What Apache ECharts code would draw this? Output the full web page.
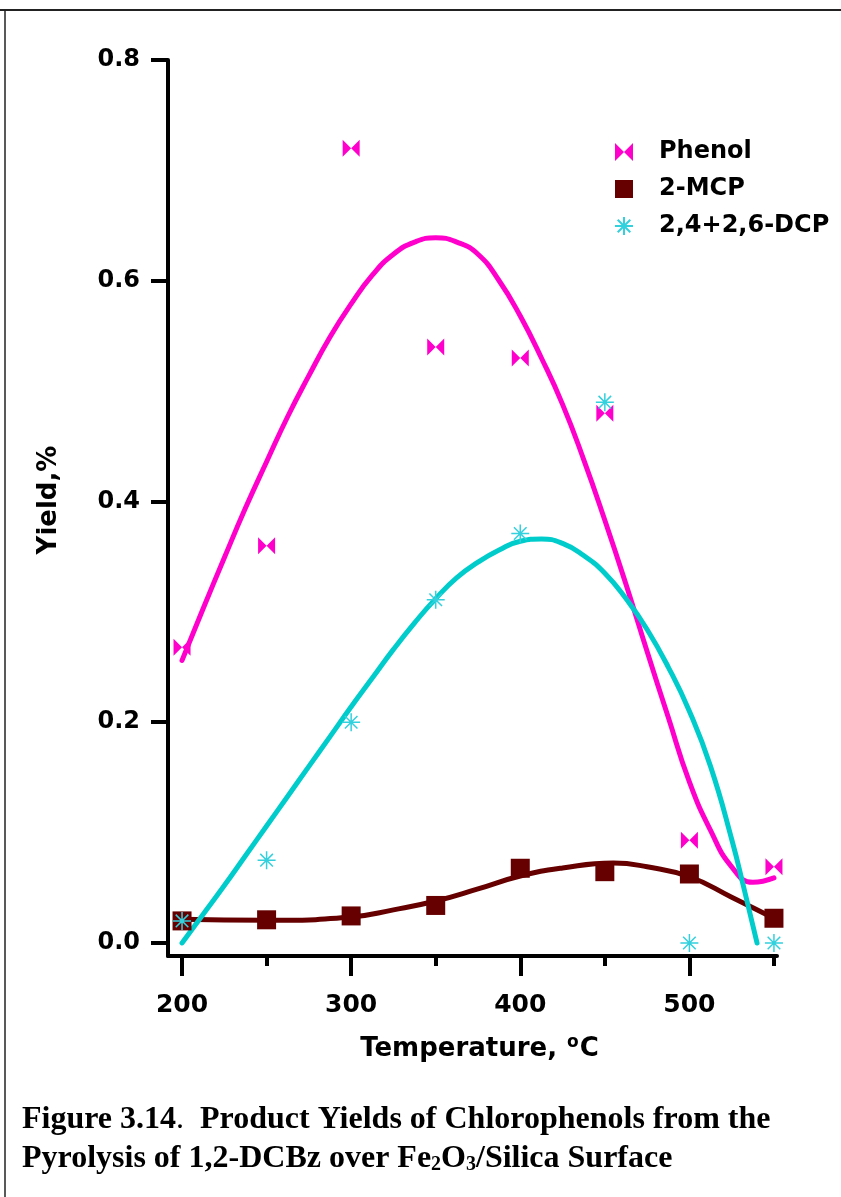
<!DOCTYPE html>
<html>
<head>
<meta charset="utf-8">
<title>Product Yields of Chlorophenols</title>
<script src="https://cdn.jsdelivr.net/npm/echarts@6/dist/echarts.min.js"></script>
<style>
  html, body { margin: 0; padding: 0; background: #fff; }
  #chart { width: 841px; height: 1197px; }
</style>
</head>
<body>
<div id="chart"></div>
<script>
// Measured yields (%) at each pyrolysis temperature
const temps = [200, 250, 300, 350, 400, 450, 500, 550];
const phenol = [0.268, 0.36, 0.72, 0.54, 0.53, 0.48, 0.093, 0.069];
const mcp = [0.020, 0.021, 0.0245, 0.034, 0.0677, 0.0646, 0.0625, 0.0224];
const dcp = [0.02, 0.075, 0.20, 0.311, 0.371, 0.49, 0.0, 0.0];

// Fitted trend curves
const phenolFitT = [200, 212.5, 225, 237.5, 250, 262.5, 275, 287.5, 300, 312.5, 325, 337.5, 350, 362.5, 375,
  387.5, 400, 412.5, 425, 437.5, 450, 462.5, 475, 487.5, 500, 512.5, 525, 537.5, 550];
const phenolFitY = [0.256, 0.303, 0.349, 0.394, 0.436, 0.477, 0.514, 0.549, 0.579, 0.605, 0.624, 0.635, 0.639, 0.635, 0.624,
  0.600, 0.568, 0.530, 0.488, 0.438, 0.383, 0.325, 0.264, 0.2045, 0.146, 0.102, 0.069, 0.055, 0.059];
const mcpFitT = [200, 250, 300, 325, 350, 375, 400, 425, 455, 475, 500, 525, 550];
const mcpFitY = [0.0215, 0.0205, 0.0236, 0.030, 0.038, 0.049, 0.0607, 0.068, 0.0724, 0.069, 0.060, 0.0415, 0.0224];
const dcpFitT = [200, 212.5, 225, 237.5, 250, 262.5, 275, 287.5, 300, 312.5, 325, 337.5, 350, 362.5, 375,
  387.5, 400, 412.5, 425, 437.5, 450, 462.5, 475, 487.5, 500, 512.5, 525, 532.5, 540];
const dcpFitY = [0.0, 0.026, 0.052, 0.079, 0.106, 0.133, 0.160, 0.187, 0.214, 0.240, 0.266, 0.290, 0.312, 0.331, 0.345,
  0.356, 0.364, 0.366, 0.362, 0.351, 0.335, 0.312, 0.284, 0.250, 0.210, 0.160, 0.094, 0.048, 0.0];

// Axis tick positions
const yTicks = [0, 0.2, 0.4, 0.6, 0.8];
const xMajorTicks = [200, 300, 400, 500];
const xMinorTicks = [250, 350, 450, 550];

const seriesNames = ['Phenol', '2-MCP', '2,4+2,6-DCP'];

const MAGENTA = '#FF00CC';
const MAROON = '#660000';
const CYAN = '#00CCCC';
const CYAN_MARK = '#33D0DD';

const bowtie = 'path://M0,0L10,10L0,20ZM20,0L10,10L20,20Z';
const asterisk = 'path://M10,0L10,20M0,10L20,10M3,3L17,17M17,3L3,17';

const pair = (xs, ys) => xs.map((x, i) => [x, ys[i]]);

const SANS = '"DejaVu Sans", sans-serif';
const SERIF = '"Liberation Serif", serif';

const X_MIN = 191.7;
const X_MAX = 551.8;

const chart = echarts.init(document.getElementById('chart'), null, { renderer: 'canvas' });

const axisLineStyle = { color: '#000', width: 4 };

const fitLine = (name, data, color) => ({
  type: 'line', name, data, smooth: 0.5,
  showSymbol: false, lineStyle: { color, width: 5, cap: 'round', join: 'round' }, z: 2, silent: true
});

// bare x axis that only carries a set of tick marks
const tickAxis = (values, length) => ({
  type: 'value', min: X_MIN, max: X_MAX, position: 'bottom', offset: 0,
  splitLine: { show: false },
  axisLine: { show: false, onZero: false },
  axisTick: { show: true, inside: false, length, lineStyle: { color: '#000', width: 4 }, customValues: values },
  axisLabel: { show: false }
});

chart.setOption({
  animation: false,
  backgroundColor: '#fff',
  grid: { left: 168, top: 60, width: 609, height: 896, containLabel: false },
  xAxis: [
    {
      type: 'value', min: X_MIN, max: X_MAX, position: 'bottom',
      splitLine: { show: false },
      axisLine: { show: true, onZero: false, lineStyle: axisLineStyle },
      axisTick: { show: false },
      axisLabel: { customValues: xMajorTicks, margin: 37, color: '#000', fontFamily: SANS, fontWeight: 'bold', fontSize: 25 },
      name: 'Temperature, {sup|o}C',
      nameLocation: 'middle', nameGap: 78,
      nameTextStyle: {
        color: '#000', fontFamily: SANS, fontWeight: 'bold', fontSize: 26, lineHeight: 30, padding: [0, 0, 0, 14],
        rich: { sup: { fontFamily: SANS, fontWeight: 'bold', fontSize: 17, verticalAlign: 'top', lineHeight: 30, padding: [0, 1, 14, 1] } }
      }
    },
    tickAxis(xMajorTicks, 20),
    tickAxis(xMinorTicks, 10)
  ],
  yAxis: {
    type: 'value', min: -0.0118, max: 0.8,
    splitLine: { show: false },
    axisLine: { show: true, onZero: false, lineStyle: axisLineStyle },
    axisTick: { show: true, inside: false, length: 17, lineStyle: { color: '#000', width: 4 }, customValues: yTicks },
    axisLabel: {
      customValues: yTicks, margin: 28, color: '#000', fontFamily: SANS, fontWeight: 'bold', fontSize: 24,
      formatter: v => v.toFixed(1)
    },
    name: 'Yield,%', nameLocation: 'middle', nameRotate: 90, nameGap: 106,
    nameTextStyle: { color: '#000', fontFamily: SANS, fontWeight: 'bold', fontSize: 26, padding: [0, 0, 0, 16] }
  },
  legend: {
    orient: 'vertical', left: 609, top: 134,
    itemWidth: 18, itemHeight: 18, itemGap: 11,
    data: seriesNames,
    textStyle: { color: '#000', fontFamily: SANS, fontWeight: 'bold', fontSize: 24, lineHeight: 26, padding: [0, 0, 0, 21] }
  },
  series: [
    fitLine('Phenol fit', pair(phenolFitT, phenolFitY), MAGENTA),
    fitLine('2-MCP fit', pair(mcpFitT, mcpFitY), MAROON),
    fitLine('DCP fit', pair(dcpFitT, dcpFitY), CYAN),
    {
      type: 'scatter', name: 'Phenol', data: pair(temps, phenol),
      symbol: bowtie, symbolSize: [17, 17],
      itemStyle: { color: MAGENTA, opacity: 1 }, z: 3
    },
    {
      type: 'scatter', name: '2-MCP', data: pair(temps, mcp),
      symbol: 'rect', symbolSize: 19,
      itemStyle: { color: MAROON, opacity: 1 }, z: 3
    },
    {
      type: 'scatter', name: '2,4+2,6-DCP', data: pair(temps, dcp),
      symbol: asterisk, symbolSize: 18,
      itemStyle: { color: 'rgba(0,0,0,0)', borderColor: CYAN_MARK, borderWidth: 1.5, opacity: 1 }, z: 4
    }
  ],
  graphic: [
    // page frame
    { type: 'line', shape: { x1: 0, y1: 10, x2: 841, y2: 10 }, style: { stroke: '#222', lineWidth: 2 }, silent: true },
    { type: 'line', shape: { x1: 5, y1: 10, x2: 5, y2: 1197 }, style: { stroke: '#222', lineWidth: 1.5 }, silent: true },
    // caption
    {
      type: 'text', left: 22, top: 1104, silent: true,
      style: {
        text: '{b|Figure 3.14}{r|.}{b|  Product Yields of Chlorophenols from the}',
        rich: {
          b: { fontFamily: SERIF, fontWeight: 'bold', fontSize: 32, fill: '#000', lineHeight: 38 },
          r: { fontFamily: SERIF, fontWeight: 'normal', fontSize: 32, fill: '#000', lineHeight: 38 }
        }
      }
    },
    {
      type: 'text', left: 22, top: 1143, silent: true,
      style: {
        text: '{b|Pyrolysis of 1,2-DCBz over Fe}{s|2}{b|O}{s|3}{b|/Silica Surface}',
        rich: {
          b: { fontFamily: SERIF, fontWeight: 'bold', fontSize: 32, fill: '#000', lineHeight: 38, verticalAlign: 'bottom' },
          s: { fontFamily: SERIF, fontWeight: 'bold', fontSize: 20, fill: '#000', lineHeight: 25, verticalAlign: 'bottom' }
        }
      }
    }
  ]
});
</script>
</body>
</html>
